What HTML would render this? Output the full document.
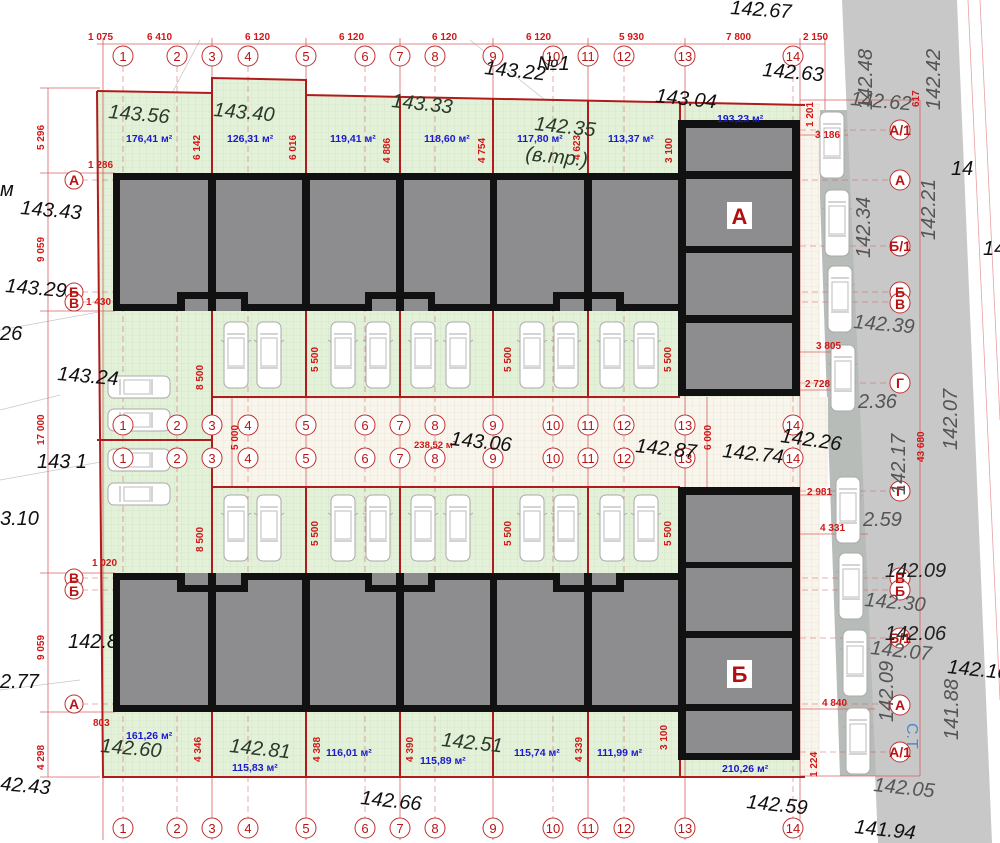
<!DOCTYPE html>
<html><head><meta charset="utf-8"><style>
html,body{margin:0;padding:0;background:#fff;}
svg{display:block;font-family:"Liberation Sans",sans-serif;}
.dm{fill:#d01818;font-size:10px;font-weight:bold;}
.ar{fill:#1a1acc;font-size:10.5px;font-weight:bold;}
.el{fill:#111;font-size:20px;font-style:italic;}
.eg{fill:#2a3a2a;font-size:20px;font-style:italic;}
.ax{fill:#b81414;font-size:13px;text-anchor:middle;}
.axr{fill:#b81414;font-size:14px;font-weight:bold;text-anchor:middle;}
</style></head><body>
<svg width="1000" height="843" viewBox="0 0 1000 843" xmlns="http://www.w3.org/2000/svg">
<defs>
<pattern id="g" width="7" height="7" patternUnits="userSpaceOnUse"><rect width="7" height="7" fill="#e2f1d8"/><path d="M7 0V7H0" fill="none" stroke="#cfe0c4" stroke-width="0.6"/></pattern>
<pattern id="c" width="7" height="7" patternUnits="userSpaceOnUse"><rect width="7" height="7" fill="#f8f6ec"/><path d="M7 0V7H0" fill="none" stroke="#ead9cf" stroke-width="0.6"/></pattern>
<g id="car"><rect x="-12" y="0" width="24" height="66" rx="6" fill="#fff" stroke="#aaa" stroke-width="1"/><path d="M-9 12h18M-9 46h18M-12 20l-3 -2M12 20l3 -2" stroke="#aaa" fill="none"/><rect x="-8" y="16" width="16" height="28" fill="none" stroke="#bbb"/></g>
<g id="carh"><rect x="0" y="-11" width="62" height="22" rx="6" fill="#fff" stroke="#aaa"/><path d="M12 -8v16M44 -8v16" stroke="#aaa"/><rect x="16" y="-7" width="26" height="14" fill="none" stroke="#bbb"/></g>
</defs>
<g stroke="#c8c8c8" stroke-width="0.8" fill="none">
<path d="M0 480 L140 455"/><path d="M0 330 L110 310"/><path d="M0 410 L60 395"/><path d="M0 690 L80 680"/><path d="M200 40 L100 230"/><path d="M260 110 L600 170"/><path d="M470 40 L570 120"/>
</g>
<polygon points="842,0 957,0 992,843 878,843" fill="#c8c8c8"/>
<polygon points="817,110 847,110 876,776 840,776" fill="#b8bcb8"/>
<g stroke="#e6a0a0" stroke-width="0.8"><line x1="968" y1="0" x2="1000" y2="700"/><line x1="980" y1="0" x2="1000" y2="420"/></g>
<polygon points="97,91 212,93 212,78 306,80 306,95 805,105 805,777 103,777" fill="url(#g)"/>
<rect x="212" y="397" width="616" height="90" fill="url(#c)"/>
<rect x="800" y="103" width="20" height="672" fill="url(#c)"/>
<g stroke="#d05050" stroke-width="0.8" stroke-dasharray="6,4" opacity="0.6">
<line x1="123" y1="66" x2="123" y2="818"/><line x1="177" y1="66" x2="177" y2="818"/><line x1="248" y1="66" x2="248" y2="818"/><line x1="365" y1="66" x2="365" y2="818"/><line x1="435" y1="66" x2="435" y2="818"/><line x1="553" y1="66" x2="553" y2="818"/><line x1="624" y1="66" x2="624" y2="818"/><line x1="793" y1="66" x2="793" y2="818"/>
<line x1="82" y1="180" x2="890" y2="180"/><line x1="82" y1="292" x2="890" y2="292"/><line x1="82" y1="302" x2="890" y2="302"/><line x1="800" y1="130" x2="890" y2="130"/><line x1="800" y1="246" x2="890" y2="246"/><line x1="800" y1="383" x2="890" y2="383"/><line x1="800" y1="491" x2="890" y2="491"/>
<line x1="82" y1="578" x2="890" y2="578"/><line x1="82" y1="590" x2="890" y2="590"/><line x1="800" y1="638" x2="890" y2="638"/><line x1="82" y1="704" x2="890" y2="704"/><line x1="800" y1="752" x2="890" y2="752"/>
</g>
<g stroke="#d86060" stroke-width="0.8">
<line x1="97" y1="44" x2="825" y2="44"/>
<line x1="103" y1="38" x2="103" y2="840"/><line x1="212" y1="38" x2="212" y2="840"/><line x1="306" y1="38" x2="306" y2="840"/><line x1="400" y1="38" x2="400" y2="840"/><line x1="493" y1="38" x2="493" y2="840"/><line x1="588" y1="38" x2="588" y2="840"/><line x1="685" y1="38" x2="685" y2="840"/><line x1="800" y1="38" x2="800" y2="840"/><line x1="825" y1="38" x2="825" y2="110"/>
<line x1="48" y1="88" x2="48" y2="777"/><line x1="40" y1="173" x2="115" y2="173"/><line x1="40" y1="311" x2="115" y2="311"/><line x1="40" y1="573" x2="115" y2="573"/><line x1="40" y1="712" x2="115" y2="712"/><line x1="40" y1="88" x2="100" y2="88"/><line x1="40" y1="777" x2="100" y2="777"/>
<line x1="920" y1="100" x2="920" y2="776"/><line x1="800" y1="100" x2="920" y2="100"/><line x1="800" y1="776" x2="920" y2="776"/>
<line x1="800" y1="135" x2="848" y2="135"/><line x1="800" y1="352" x2="856" y2="352"/><line x1="800" y1="390" x2="840" y2="390"/><line x1="800" y1="495" x2="832" y2="495"/><line x1="800" y1="534" x2="868" y2="534"/><line x1="800" y1="709" x2="875" y2="709"/>
<line x1="232" y1="397" x2="232" y2="487"/><line x1="707" y1="397" x2="707" y2="487"/>
</g>
<g stroke="#b01c1c" stroke-width="2" fill="none">
<polyline points="97,91 212,93 212,78 306,80 306,95 805,105"/>
<polyline points="97,91 103,777 805,777"/>
<line x1="212" y1="93" x2="212" y2="173"/><line x1="306" y1="95" x2="306" y2="173"/><line x1="400" y1="97" x2="400" y2="173"/><line x1="493" y1="99" x2="493" y2="173"/><line x1="588" y1="101" x2="588" y2="173"/><line x1="680" y1="103" x2="680" y2="120"/>
<line x1="212" y1="311" x2="212" y2="573"/><line x1="306" y1="311" x2="306" y2="397"/><line x1="400" y1="311" x2="400" y2="397"/><line x1="493" y1="311" x2="493" y2="397"/><line x1="588" y1="311" x2="588" y2="397"/>
<line x1="212" y1="397" x2="680" y2="397"/><line x1="212" y1="487" x2="680" y2="487"/><line x1="97" y1="440" x2="212" y2="440"/>
<line x1="306" y1="487" x2="306" y2="573"/><line x1="400" y1="487" x2="400" y2="573"/><line x1="493" y1="487" x2="493" y2="573"/><line x1="588" y1="487" x2="588" y2="573"/>
<line x1="212" y1="712" x2="212" y2="777"/><line x1="306" y1="712" x2="306" y2="777"/><line x1="400" y1="712" x2="400" y2="777"/><line x1="493" y1="712" x2="493" y2="777"/><line x1="588" y1="712" x2="588" y2="777"/><line x1="680" y1="760" x2="680" y2="777"/>
</g>
<rect x="113" y="173" width="569" height="138" fill="#111"/>
<g fill="#8d8d8f">
<rect x="120" y="180" width="88" height="124"/><rect x="216" y="180" width="86" height="124"/><rect x="310" y="180" width="86" height="124"/><rect x="404" y="180" width="86" height="124"/><rect x="497" y="180" width="87" height="124"/><rect x="592" y="180" width="86" height="124"/>
</g>
<g fill="#111"><rect x="177" y="292" width="71" height="12"/><rect x="365" y="292" width="70" height="12"/><rect x="553" y="292" width="71" height="12"/></g>
<g fill="#8d8d8f"><rect x="185" y="299" width="23" height="12"/><rect x="216" y="299" width="25" height="12"/><rect x="372" y="299" width="24" height="12"/><rect x="404" y="299" width="24" height="12"/><rect x="560" y="299" width="24" height="12"/><rect x="592" y="299" width="24" height="12"/></g>
<rect x="113" y="573" width="569" height="139" fill="#111"/>
<g fill="#8d8d8f">
<rect x="120" y="580" width="88" height="125"/><rect x="216" y="580" width="86" height="125"/><rect x="310" y="580" width="86" height="125"/><rect x="404" y="580" width="86" height="125"/><rect x="497" y="580" width="87" height="125"/><rect x="592" y="580" width="86" height="125"/>
</g>
<g fill="#111"><rect x="177" y="580" width="71" height="12"/><rect x="365" y="580" width="70" height="12"/><rect x="553" y="580" width="71" height="12"/></g>
<g fill="#8d8d8f"><rect x="185" y="573" width="23" height="12"/><rect x="216" y="573" width="25" height="12"/><rect x="372" y="573" width="24" height="12"/><rect x="404" y="573" width="24" height="12"/><rect x="560" y="573" width="24" height="12"/><rect x="592" y="573" width="24" height="12"/></g>
<rect x="678" y="120" width="122" height="276" fill="#111"/>
<g fill="#8d8d8f"><rect x="686" y="128" width="106" height="43"/><rect x="686" y="179" width="106" height="67"/><rect x="686" y="253" width="106" height="62"/><rect x="686" y="323" width="106" height="66"/></g>
<rect x="727" y="202" width="25" height="27" fill="#fff"/><text x="739.5" y="224" fill="#b01010" font-size="22" font-weight="bold" text-anchor="middle">А</text>
<rect x="678" y="487" width="122" height="273" fill="#111"/>
<g fill="#8d8d8f"><rect x="686" y="495" width="106" height="67"/><rect x="686" y="568" width="106" height="63"/><rect x="686" y="638" width="106" height="66"/><rect x="686" y="711" width="106" height="42"/></g>
<rect x="727" y="660" width="25" height="28" fill="#fff"/><text x="739.5" y="682" fill="#b01010" font-size="22" font-weight="bold" text-anchor="middle">Б</text>
<g>
<use href="#car" x="236" y="322"/><use href="#car" x="269" y="322"/><use href="#car" x="343" y="322"/><use href="#car" x="378" y="322"/><use href="#car" x="423" y="322"/><use href="#car" x="458" y="322"/><use href="#car" x="532" y="322"/><use href="#car" x="566" y="322"/><use href="#car" x="612" y="322"/><use href="#car" x="646" y="322"/>
<use href="#car" x="236" y="495"/><use href="#car" x="269" y="495"/><use href="#car" x="343" y="495"/><use href="#car" x="378" y="495"/><use href="#car" x="423" y="495"/><use href="#car" x="458" y="495"/><use href="#car" x="532" y="495"/><use href="#car" x="566" y="495"/><use href="#car" x="612" y="495"/><use href="#car" x="646" y="495"/>
<use href="#carh" x="108" y="387"/><use href="#carh" x="108" y="420"/><use href="#carh" x="108" y="460"/><use href="#carh" x="108" y="494"/>
<use href="#car" x="832" y="112"/><use href="#car" x="837" y="190"/><use href="#car" x="840" y="266"/><use href="#car" x="843" y="345"/><use href="#car" x="848" y="477"/><use href="#car" x="851" y="553"/><use href="#car" x="855" y="630"/><use href="#car" x="858" y="708"/>
</g>
<g fill="#fff" stroke="#c03030" stroke-width="1">
<circle cx="123" cy="56" r="10"/><circle cx="177" cy="56" r="10"/><circle cx="212" cy="56" r="10"/><circle cx="248" cy="56" r="10"/><circle cx="306" cy="56" r="10"/><circle cx="365" cy="56" r="10"/><circle cx="400" cy="56" r="10"/><circle cx="435" cy="56" r="10"/><circle cx="493" cy="56" r="10"/><circle cx="553" cy="56" r="10"/><circle cx="588" cy="56" r="10"/><circle cx="624" cy="56" r="10"/><circle cx="685" cy="56" r="10"/><circle cx="793" cy="56" r="10"/>
<circle cx="123" cy="425" r="10"/><circle cx="177" cy="425" r="10"/><circle cx="212" cy="425" r="10"/><circle cx="248" cy="425" r="10"/><circle cx="306" cy="425" r="10"/><circle cx="365" cy="425" r="10"/><circle cx="400" cy="425" r="10"/><circle cx="435" cy="425" r="10"/><circle cx="493" cy="425" r="10"/><circle cx="553" cy="425" r="10"/><circle cx="588" cy="425" r="10"/><circle cx="624" cy="425" r="10"/><circle cx="685" cy="425" r="10"/><circle cx="793" cy="425" r="10"/>
<circle cx="123" cy="458" r="10"/><circle cx="177" cy="458" r="10"/><circle cx="212" cy="458" r="10"/><circle cx="248" cy="458" r="10"/><circle cx="306" cy="458" r="10"/><circle cx="365" cy="458" r="10"/><circle cx="400" cy="458" r="10"/><circle cx="435" cy="458" r="10"/><circle cx="493" cy="458" r="10"/><circle cx="553" cy="458" r="10"/><circle cx="588" cy="458" r="10"/><circle cx="624" cy="458" r="10"/><circle cx="685" cy="458" r="10"/><circle cx="793" cy="458" r="10"/>
<circle cx="123" cy="828" r="10"/><circle cx="177" cy="828" r="10"/><circle cx="212" cy="828" r="10"/><circle cx="248" cy="828" r="10"/><circle cx="306" cy="828" r="10"/><circle cx="365" cy="828" r="10"/><circle cx="400" cy="828" r="10"/><circle cx="435" cy="828" r="10"/><circle cx="493" cy="828" r="10"/><circle cx="553" cy="828" r="10"/><circle cx="588" cy="828" r="10"/><circle cx="624" cy="828" r="10"/><circle cx="685" cy="828" r="10"/><circle cx="793" cy="828" r="10"/>
<circle cx="74" cy="180" r="9"/><circle cx="74" cy="292" r="9"/><circle cx="74" cy="302" r="9"/><circle cx="74" cy="578" r="9"/><circle cx="74" cy="590" r="9"/><circle cx="74" cy="704" r="9"/>
<circle cx="900" cy="130" r="10"/><circle cx="900" cy="180" r="10"/><circle cx="900" cy="246" r="10"/><circle cx="900" cy="292" r="10"/><circle cx="900" cy="303" r="10"/><circle cx="900" cy="383" r="10"/><circle cx="900" cy="491" r="10"/><circle cx="900" cy="578" r="10"/><circle cx="900" cy="590" r="10"/><circle cx="900" cy="638" r="10"/><circle cx="900" cy="705" r="10"/><circle cx="900" cy="752" r="10"/>
</g>
<g class="ax">
<text x="123" y="61">1</text><text x="177" y="61">2</text><text x="212" y="61">3</text><text x="248" y="61">4</text><text x="306" y="61">5</text><text x="365" y="61">6</text><text x="400" y="61">7</text><text x="435" y="61">8</text><text x="493" y="61">9</text><text x="553" y="61">10</text><text x="588" y="61">11</text><text x="624" y="61">12</text><text x="685" y="61">13</text><text x="793" y="61">14</text>
<text x="123" y="430">1</text><text x="177" y="430">2</text><text x="212" y="430">3</text><text x="248" y="430">4</text><text x="306" y="430">5</text><text x="365" y="430">6</text><text x="400" y="430">7</text><text x="435" y="430">8</text><text x="493" y="430">9</text><text x="553" y="430">10</text><text x="588" y="430">11</text><text x="624" y="430">12</text><text x="685" y="430">13</text><text x="793" y="430">14</text>
<text x="123" y="463">1</text><text x="177" y="463">2</text><text x="212" y="463">3</text><text x="248" y="463">4</text><text x="306" y="463">5</text><text x="365" y="463">6</text><text x="400" y="463">7</text><text x="435" y="463">8</text><text x="493" y="463">9</text><text x="553" y="463">10</text><text x="588" y="463">11</text><text x="624" y="463">12</text><text x="685" y="463">13</text><text x="793" y="463">14</text>
<text x="123" y="833">1</text><text x="177" y="833">2</text><text x="212" y="833">3</text><text x="248" y="833">4</text><text x="306" y="833">5</text><text x="365" y="833">6</text><text x="400" y="833">7</text><text x="435" y="833">8</text><text x="493" y="833">9</text><text x="553" y="833">10</text><text x="588" y="833">11</text><text x="624" y="833">12</text><text x="685" y="833">13</text><text x="793" y="833">14</text>
</g>
<g class="axr">
<text x="74" y="185">А</text><text x="74" y="297">Б</text><text x="74" y="308">В</text><text x="74" y="583">В</text><text x="74" y="596">Б</text><text x="74" y="709">А</text>
<text x="900" y="135">А/1</text><text x="900" y="185">А</text><text x="900" y="251">Б/1</text><text x="900" y="297">Б</text><text x="900" y="309">В</text><text x="900" y="388">Г</text><text x="900" y="496">Г</text><text x="900" y="583">В</text><text x="900" y="596">Б</text><text x="900" y="643">Б/1</text><text x="900" y="710">А</text><text x="900" y="757">А/1</text>
</g>
<g class="dm">
<text x="88" y="40">1 075</text><text x="147" y="40">6 410</text><text x="245" y="40">6 120</text><text x="339" y="40">6 120</text><text x="432" y="40">6 120</text><text x="526" y="40">6 120</text><text x="619" y="40">5 930</text><text x="726" y="40">7 800</text><text x="803" y="40">2 150</text>
<text x="88" y="168">1 286</text><text x="86" y="305">1 430</text><text x="92" y="566">1 020</text><text x="93" y="726">803</text>
<text x="815" y="138">3 186</text><text x="816" y="349">3 805</text><text x="805" y="387">2 728</text><text x="807" y="495">2 981</text><text x="820" y="531">4 331</text><text x="822" y="706">4 840</text>
<text x="414" y="448" font-size="9.5">238,52 м²</text>
</g>
<g class="dm">
<text transform="translate(44,150) rotate(-90)">5 296</text><text transform="translate(44,262) rotate(-90)">9 059</text><text transform="translate(44,445) rotate(-90)">17 000</text><text transform="translate(44,660) rotate(-90)">9 059</text><text transform="translate(44,770) rotate(-90)">4 298</text>
<text transform="translate(200,160) rotate(-90)">6 142</text><text transform="translate(296,160) rotate(-90)">6 016</text><text transform="translate(390,163) rotate(-90)">4 886</text><text transform="translate(485,163) rotate(-90)">4 754</text><text transform="translate(580,160) rotate(-90)">4 623</text><text transform="translate(672,163) rotate(-90)">3 100</text>
<text transform="translate(203,390) rotate(-90)">8 500</text><text transform="translate(318,372) rotate(-90)">5 500</text><text transform="translate(511,372) rotate(-90)">5 500</text><text transform="translate(671,372) rotate(-90)">5 500</text>
<text transform="translate(238,450) rotate(-90)">5 000</text><text transform="translate(711,450) rotate(-90)">6 000</text>
<text transform="translate(203,552) rotate(-90)">8 500</text><text transform="translate(318,546) rotate(-90)">5 500</text><text transform="translate(511,546) rotate(-90)">5 500</text><text transform="translate(671,546) rotate(-90)">5 500</text>
<text transform="translate(201,762) rotate(-90)">4 346</text><text transform="translate(320,762) rotate(-90)">4 388</text><text transform="translate(413,762) rotate(-90)">4 390</text><text transform="translate(582,762) rotate(-90)">4 339</text><text transform="translate(667,750) rotate(-90)">3 100</text>
<text transform="translate(813,127) rotate(-90)">1 201</text><text transform="translate(919,107) rotate(-90)">617</text><text transform="translate(817,777) rotate(-90)">1 224</text><text transform="translate(924,462) rotate(-90)">43 680</text>
</g>
<g class="ar">
<text x="126" y="142">176,41 м²</text><text x="227" y="142">126,31 м²</text><text x="330" y="142">119,41 м²</text><text x="424" y="142">118,60 м²</text><text x="517" y="142">117,80 м²</text><text x="608" y="142">113,37 м²</text><text x="717" y="122">193,23 м²</text>
<text x="126" y="739">161,26 м²</text><text x="232" y="771">115,83 м²</text><text x="326" y="756">116,01 м²</text><text x="420" y="764">115,89 м²</text><text x="514" y="756">115,74 м²</text><text x="597" y="756">111,99 м²</text><text x="722" y="772">210,26 м²</text>
</g>
<g class="el">
<text x="730" y="14" transform="rotate(4 730 14)">142.67</text>
<text x="484" y="74" transform="rotate(6 484 74)">143.22</text><text x="537" y="70">№1</text>
<text x="762" y="76" transform="rotate(5 762 76)">142.63</text>
<text x="655" y="102" transform="rotate(6 655 102)">143.04</text>
<text x="20" y="214" transform="rotate(5 20 214)">143.43</text>
<text x="0" y="196">м</text>
<text x="5" y="292" transform="rotate(5 5 292)">143.29</text>
<text x="0" y="340">26</text>
<text x="57" y="380" transform="rotate(5 57 380)">143.24</text>
<text x="37" y="468">143 1</text>
<text x="0" y="525">3.10</text>
<text x="68" y="648">142.8</text>
<text x="0" y="688">2.77</text>
<text x="0" y="790" transform="rotate(5 0 790)">42.43</text>
<text x="450" y="445" transform="rotate(6 450 445)">143.06</text>
<text x="635" y="452" transform="rotate(6 635 452)">142.87</text>
<text x="722" y="457" transform="rotate(6 722 457)">142.74</text>
<text x="780" y="442" transform="rotate(8 780 442)">142.26</text>
<text x="360" y="804" transform="rotate(6 360 804)">142.66</text>
<text x="746" y="808" transform="rotate(6 746 808)">142.59</text>
<text x="854" y="833" transform="rotate(6 854 833)">141.94</text>
<text x="951" y="175">14</text><text x="983" y="255">14</text><text x="947" y="673" transform="rotate(6 947 673)">142.16</text>
</g>
<g class="eg">
<text x="108" y="118" transform="rotate(5 108 118)">143.56</text>
<text x="213" y="116" transform="rotate(5 213 116)">143.40</text>
<text x="391" y="107" transform="rotate(6 391 107)">143.33</text>
<text x="534" y="130" transform="rotate(6 534 130)">142.35</text>
<text x="525" y="160" transform="rotate(6 525 160)">(в.тр.)</text>
<text x="100" y="752" transform="rotate(5 100 752)">142.60</text>
<text x="229" y="752" transform="rotate(6 229 752)">142.81</text>
<text x="441" y="746" transform="rotate(6 441 746)">142.51</text>
</g>
<g fill="#555" font-size="20" font-style="italic">
<text transform="translate(872,110) rotate(-90)">142.48</text>
<text transform="translate(940,110) rotate(-90)">142.42</text>
<text transform="translate(935,240) rotate(-90)">142.21</text>
<text transform="translate(870,258) rotate(-90)">142.34</text>
<text transform="translate(905,495) rotate(-90)">142.17</text>
<text transform="translate(957,450) rotate(-90)">142.07</text>
<text transform="translate(958,740) rotate(-90)">141.88</text>
<text transform="translate(893,722) rotate(-90)">142.09</text>
<text x="850" y="105" transform="rotate(5 850 105)">142.62</text>
<text x="853" y="328" transform="rotate(5 853 328)">142.39</text>
<text x="858" y="408">2.36</text>
<text x="863" y="526">2.59</text>
<text x="864" y="606" transform="rotate(5 864 606)">142.30</text>
<text x="885" y="577" fill="#222">142.09</text>
<text x="885" y="640" fill="#222">142.06</text>
<text x="870" y="654" transform="rotate(6 870 654)">142.07</text>
<text x="873" y="791" transform="rotate(6 873 791)">142.05</text>
</g>
<text transform="translate(907,723) rotate(90)" fill="#4a8ad0" font-size="16">С.Т</text>
</svg>
</body></html>
